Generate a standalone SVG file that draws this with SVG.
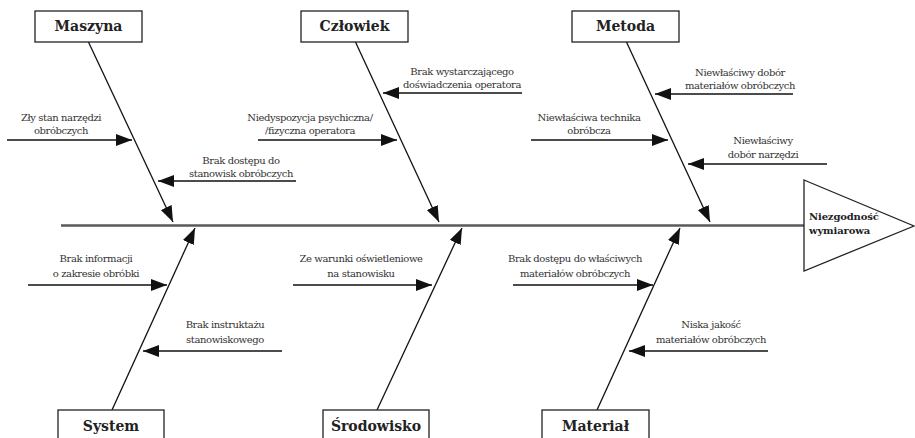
<svg xmlns="http://www.w3.org/2000/svg" width="915" height="438" viewBox="0 0 915 438">
  <defs>
    <marker id="head" viewBox="0 0 16 12" markerWidth="16" markerHeight="12" refX="16" refY="6" orient="auto" markerUnits="userSpaceOnUse">
      <path d="M0,0 L16,6 L0,12 z" fill="#111"/>
    </marker>
  </defs>
  <style>
    text { font-family: 'DejaVu Serif', serif; }
    .box { fill: #fff; stroke: #222; stroke-width: 1.3; }
    .cat { font-weight: bold; font-size: 14px; fill: #222; text-anchor: middle; }
    .lbl { font-size: 10px; letter-spacing: -0.4px; fill: #333; text-anchor: middle; }
    .eff { font-weight: bold; font-size: 10px; letter-spacing: -0.15px; fill: #222; }
    .bone { stroke: #111; stroke-width: 1.3; fill: none; marker-end: url(#head); }
    .cause { stroke: #111; stroke-width: 1.3; fill: none; marker-end: url(#head); }
    .spine { stroke: #5a5a5a; stroke-width: 2.5; fill: none; }
  </style>
  <rect width="915" height="438" fill="#fff"/>

  <!-- spine, bones and cause arrows -->
  <g id="connectors">
    <line class="spine" x1="61" y1="225.5" x2="804" y2="225.5"/>

    <line class="bone" x1="88" y1="41" x2="173" y2="222"/>
    <line class="bone" x1="355" y1="41" x2="439" y2="222"/>
    <line class="bone" x1="626" y1="41" x2="710" y2="222"/>
    <line class="bone" x1="112" y1="410" x2="195" y2="228"/>
    <line class="bone" x1="377" y1="410" x2="462" y2="228"/>
    <line class="bone" x1="597" y1="410" x2="680" y2="228"/>

    <line class="cause" x1="7" y1="140" x2="132" y2="140"/>
    <line class="cause" x1="296" y1="181" x2="158" y2="181"/>
    <line class="cause" x1="522" y1="93" x2="383" y2="93"/>
    <line class="cause" x1="258" y1="140" x2="397" y2="140"/>
    <line class="cause" x1="793" y1="94" x2="655" y2="94"/>
    <line class="cause" x1="531" y1="140" x2="668" y2="140"/>
    <line class="cause" x1="827" y1="164" x2="688" y2="164"/>
    <line class="cause" x1="28" y1="285" x2="167" y2="285"/>
    <line class="cause" x1="282" y1="351" x2="143" y2="351"/>
    <line class="cause" x1="293" y1="285" x2="432" y2="285"/>
    <line class="cause" x1="513" y1="285" x2="653" y2="285"/>
    <line class="cause" x1="768" y1="351" x2="629" y2="351"/>
  </g>

  <!-- category boxes -->
  <g id="maszyna">
    <rect class="box" x="35" y="11" width="107" height="31"/>
    <text class="cat" x="88.5" y="31">Maszyna</text>
  </g>
  <g id="czlowiek">
    <rect class="box" x="301" y="11" width="107" height="31"/>
    <text class="cat" x="354.5" y="31">Człowiek</text>
  </g>
  <g id="metoda">
    <rect class="box" x="572" y="11" width="107" height="31"/>
    <text class="cat" x="625.5" y="31">Metoda</text>
  </g>
  <g id="system">
    <rect class="box" x="58" y="410" width="106" height="34"/>
    <text class="cat" x="111" y="431">System</text>
  </g>
  <g id="srodowisko">
    <rect class="box" x="323" y="410" width="106" height="34"/>
    <text class="cat" x="376" y="431">Środowisko</text>
  </g>
  <g id="material">
    <rect class="box" x="542" y="410" width="107" height="34"/>
    <text class="cat" x="595.5" y="431">Materiał</text>
  </g>

  <!-- effect head -->
  <g id="effect">
    <polygon points="804,180 914,226 804,271" fill="#fff" stroke="#222" stroke-width="1.3"/>
    <text class="eff" x="809" y="220">Niezgodność</text>
    <text class="eff" x="809" y="234">wymiarowa</text>
  </g>

  <!-- cause labels -->
  <g id="cause-zly-stan">
    <text class="lbl" x="61" y="121">Zły stan narzędzi</text>
    <text class="lbl" x="61" y="134">obróbczych</text>
  </g>
  <g id="cause-brak-dostepu">
    <text class="lbl" x="241" y="164">Brak dostępu do</text>
    <text class="lbl" x="241" y="177">stanowisk obróbczych</text>
  </g>
  <g id="cause-doswiadczenie">
    <text class="lbl" x="462" y="75">Brak wystarczającego</text>
    <text class="lbl" x="462" y="88">doświadczenia operatora</text>
  </g>
  <g id="cause-niedyspozycja">
    <text class="lbl" x="310" y="121">Niedyspozycja psychiczna/</text>
    <text class="lbl" x="310" y="134">/fizyczna operatora</text>
  </g>
  <g id="cause-dobor-materialow">
    <text class="lbl" x="740" y="76">Niewłaściwy dobór</text>
    <text class="lbl" x="740" y="89">materiałów obróbczych</text>
  </g>
  <g id="cause-technika">
    <text class="lbl" x="589" y="121">Niewłaściwa technika</text>
    <text class="lbl" x="589" y="134">obróbcza</text>
  </g>
  <g id="cause-dobor-narzedzi">
    <text class="lbl" x="763" y="144">Niewłaściwy</text>
    <text class="lbl" x="763" y="158">dobór narzędzi</text>
  </g>
  <g id="cause-informacja">
    <text class="lbl" x="96" y="262">Brak informacji</text>
    <text class="lbl" x="96" y="277">o zakresie obróbki</text>
  </g>
  <g id="cause-instruktaz">
    <text class="lbl" x="225" y="328">Brak instruktażu</text>
    <text class="lbl" x="225" y="343">stanowiskowego</text>
  </g>
  <g id="cause-oswietlenie">
    <text class="lbl" x="361" y="262">Ze warunki oświetleniowe</text>
    <text class="lbl" x="361" y="277">na stanowisku</text>
  </g>
  <g id="cause-dostep-materialy">
    <text class="lbl" x="575" y="262">Brak dostępu do właściwych</text>
    <text class="lbl" x="575" y="277">materiałów obróbczych</text>
  </g>
  <g id="cause-jakosc">
    <text class="lbl" x="711" y="328">Niska jakość</text>
    <text class="lbl" x="711" y="343">materiałów obróbczych</text>
  </g>
</svg>
